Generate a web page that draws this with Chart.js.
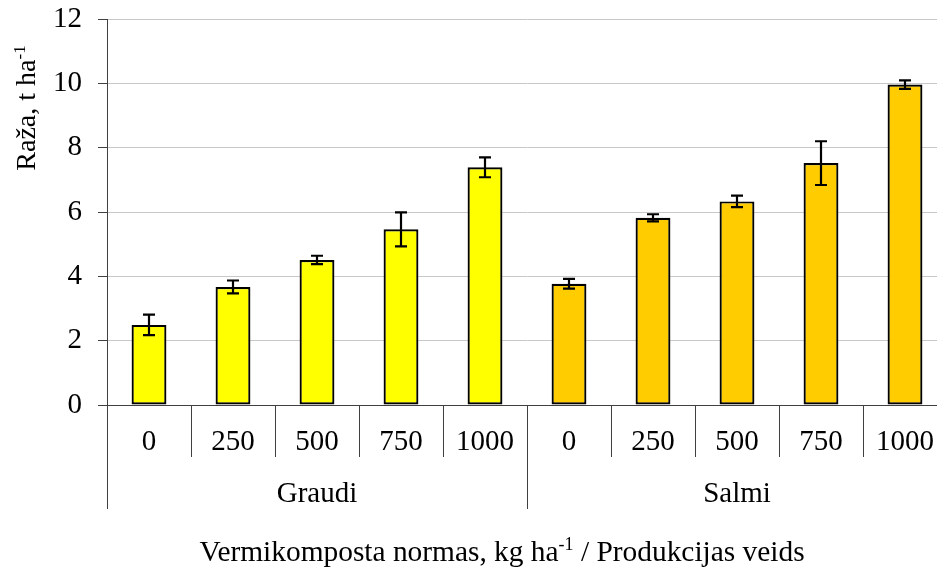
<!DOCTYPE html>
<html>
<head>
<meta charset="utf-8">
<script src="https://cdn.jsdelivr.net/npm/chart.js@4/dist/chart.umd.min.js"></script>
<style>
  html, body { margin: 0; padding: 0; background: #fff; overflow: hidden; }
  #c { display: block; }
</style>
</head>
<body>
<canvas id="c" width="947" height="570"></canvas>
<script>
// Vermicompost rates (kg/ha) for each product type
const rates = ['0', '250', '500', '750', '1000'];
const groups = ['Graudi', 'Salmi'];

// Mean yield, t/ha
const graudiYield = [2.49, 3.67, 4.51, 5.46, 7.39];
const salmiYield = [3.77, 5.82, 6.33, 7.52, 9.96];

// Error bar half-widths, t/ha
const graudiErr = [0.32, 0.20, 0.13, 0.53, 0.31];
const salmiErr = [0.15, 0.11, 0.18, 0.68, 0.13];

const yTicks = [0, 2, 4, 6, 8, 10, 12];

const groupColors = ['#FFFF00', '#FFCC00'];
const FONT = '"Liberation Serif", "Times New Roman", serif';
const AXIS = '#404040';
const LABEL_SIZE = 29;

const labels = [...rates, ...rates];
const values = [...graudiYield, ...salmiYield];
const errors = [...graudiErr, ...salmiErr];
const colors = labels.map((_, i) => groupColors[Math.floor(i / rates.length)]);

// draw text pieces in sequence, with optional superscript pieces
function richWidth(ctx, parts, size) {
  let w = 0;
  for (const p of parts) {
    ctx.font = (p.sup ? Math.round(size * 0.62) : size) + 'px ' + FONT;
    w += ctx.measureText(p.t).width;
  }
  return w;
}
function drawRich(ctx, parts, x, y, size) {
  let cx = x;
  for (const p of parts) {
    const s = p.sup ? Math.round(size * 0.62) : size;
    ctx.font = s + 'px ' + FONT;
    ctx.fillText(p.t, cx, p.sup ? y - size * 0.36 : y);
    cx += ctx.measureText(p.t).width;
  }
}

const decorations = {
  id: 'decorations',
  afterDatasetsDraw(chart) {
    const ctx = chart.ctx;
    const y = chart.scales.y;
    const meta = chart.getDatasetMeta(0);

    // error bars
    ctx.save();
    ctx.strokeStyle = '#000';
    ctx.lineWidth = 2.2;
    meta.data.forEach((bar, i) => {
      const top = y.getPixelForValue(values[i] + errors[i]);
      const bot = y.getPixelForValue(values[i] - errors[i]);
      const cap = 6;
      ctx.beginPath();
      ctx.moveTo(bar.x, top); ctx.lineTo(bar.x, bot);
      ctx.moveTo(bar.x - cap, top); ctx.lineTo(bar.x + cap, top);
      ctx.moveTo(bar.x - cap, bot); ctx.lineTo(bar.x + cap, bot);
      ctx.stroke();
    });
    ctx.restore();
  },
  afterDraw(chart) {
    const ctx = chart.ctx;
    const x = chart.scales.x;
    const area = chart.chartArea;
    const base = area.bottom;
    const n = labels.length;
    const step = (x.getPixelForValue(n - 1) - x.getPixelForValue(0)) / (n - 1);

    ctx.save();
    ctx.strokeStyle = AXIS;
    ctx.lineWidth = 1;
    // separators between categories and between groups
    for (let i = 0; i <= n; i++) {
      const px = Math.round(x.getPixelForValue(0) - step / 2 + i * step) + 0.5;
      const isGroup = i % rates.length === 0;
      ctx.beginPath();
      ctx.moveTo(px, base);
      ctx.lineTo(px, base + (isGroup ? 104 : 52));
      ctx.stroke();
    }
    // group names
    ctx.fillStyle = '#000';
    ctx.font = LABEL_SIZE + 'px ' + FONT;
    ctx.textAlign = 'center';
    ctx.textBaseline = 'middle';
    groups.forEach((g, gi) => {
      const first = x.getPixelForValue(gi * rates.length);
      const last = x.getPixelForValue(gi * rates.length + rates.length - 1);
      ctx.fillText(g, (first + last) / 2, base + 89);
    });

    // axis titles
    ctx.textAlign = 'left';
    ctx.textBaseline = 'alphabetic';
    const xTitle = [{t: 'Vermikomposta normas, kg ha'}, {t: '-1', sup: true}, {t: ' / Produkcijas veids'}];
    const wx = richWidth(ctx, xTitle, 29.4);
    drawRich(ctx, xTitle, 502 - wx / 2, 561, 29.4);

    const yTitle = [{t: 'Raža, t ha'}, {t: '-1', sup: true}];
    const wy = richWidth(ctx, yTitle, 28);
    ctx.translate(35, 108);
    ctx.rotate(-Math.PI / 2);
    drawRich(ctx, yTitle, -wy / 2, 0, 28);
    ctx.restore();
  }
};

new Chart(document.getElementById('c'), {
  type: 'bar',
  data: {
    labels: labels,
    datasets: [{
      data: values,
      backgroundColor: colors,
      borderColor: '#000',
      borderWidth: 2.2,
      borderSkipped: false,
      barPercentage: 0.415,
      categoryPercentage: 1.0
    }]
  },
  options: {
    responsive: false,
    maintainAspectRatio: false,
    animation: false,
    devicePixelRatio: 1,
    layout: { padding: { top: 19, left: 0, right: 0, bottom: 0 } },
    plugins: { legend: { display: false }, tooltip: { enabled: false } },
    scales: {
      x: {
        type: 'category',
        grid: { display: false, drawTicks: false },
        border: { display: true, color: AXIS, width: 1 },
        ticks: {
          color: '#000',
          font: { family: FONT, size: LABEL_SIZE },
          padding: 20,
          maxRotation: 0,
          autoSkip: false
        },
        afterFit(scale) {
          scale.height = 165;
          scale.paddingLeft = 0;
          scale.paddingRight = 0;
        }
      },
      y: {
        min: 0,
        max: 12,
        afterBuildTicks(scale) { scale.ticks = yTicks.map(v => ({ value: v })); },
        grid: { color: '#c8c8c8', lineWidth: 1, tickColor: AXIS, tickLength: 9 },
        border: { display: true, color: AXIS, width: 1 },
        ticks: {
          color: '#000',
          font: { family: FONT, size: LABEL_SIZE },
          padding: 16
        },
        afterFit(scale) {
          scale.width = 107;
          scale.paddingTop = 0;
          scale.paddingBottom = 0;
        }
      }
    }
  },
  plugins: [decorations]
});
</script>
</body>
</html>
